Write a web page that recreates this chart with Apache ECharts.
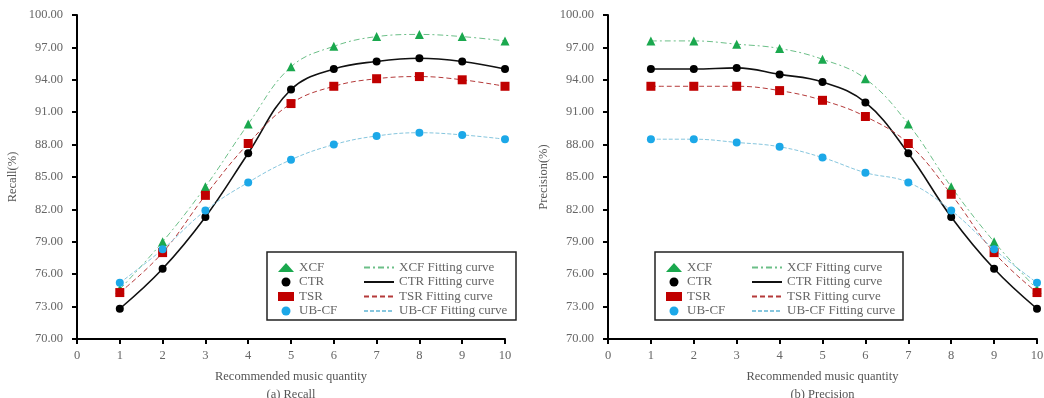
<!DOCTYPE html>
<html><head><meta charset="utf-8">
<script src="https://cdn.jsdelivr.net/npm/echarts@6/dist/echarts.min.js"></script>
<style>html,body{margin:0;padding:0;background:#fff}#c{width:1044px;height:398px}</style>
</head><body><div id="c"></div>
<script>
const xValues = [1,2,3,4,5,6,7,8,9,10];
const methods = ['XCF','CTR','TSR','UB-CF'];
const fitNames = ['XCF Fitting curve','CTR Fitting curve','TSR Fitting curve','UB-CF Fitting curve'];
const recallXCF = [74.6, 79.0, 84.1, 89.9, 95.2, 97.1, 98.0, 98.2, 98.0, 97.6];
const recallCTR = [72.8, 76.5, 81.3, 87.2, 93.1, 95.0, 95.7, 96.0, 95.7, 95.0];
const recallTSR = [74.3, 78.0, 83.3, 88.1, 91.8, 93.4, 94.1, 94.3, 94.0, 93.4];
const recallUBCF = [75.2, 78.3, 81.9, 84.5, 86.6, 88.0, 88.8, 89.1, 88.9, 88.5];
const precXCF = [97.6, 97.6, 97.3, 96.9, 95.9, 94.1, 89.9, 84.1, 79.0, 74.6];
const precCTR = [95.0, 95.0, 95.1, 94.5, 93.8, 91.9, 87.2, 81.3, 76.5, 72.8];
const precTSR = [93.4, 93.4, 93.4, 93.0, 92.1, 90.6, 88.1, 83.4, 78.0, 74.3];
const precUBCF = [88.5, 88.5, 88.2, 87.8, 86.8, 85.4, 84.5, 81.9, 78.3, 75.2];
const xTicks = [0,1,2,3,4,5,6,7,8,9,10];
const yMin = 70, yMax = 100, yStep = 3;

const FONT = 'Liberation Serif';
const markerStyle = [
  {symbol:'triangle', size:9, color:'#1aa84e'},
  {symbol:'circle', size:8, color:'#000000'},
  {symbol:'rect', size:9, color:'#c00000'},
  {symbol:'circle', size:8, color:'#1ca8e8'}
];
const fitStyle = [
  {color:'#6cbf88', width:1, type:[6,3,2,3]},
  {color:'#111111', width:1.6, type:'solid'},
  {color:'#b53a3a', width:1, type:[5,3]},
  {color:'#86c6de', width:1, type:[4,2]}
];
const recallSets = [recallXCF, recallCTR, recallTSR, recallUBCF];
const precSets = [precXCF, precCTR, precTSR, precUBCF];

function pairs(arr){ return xValues.map((x,i)=>[x, arr[i]]); }

function makeAxes(gi, yName, xName){
  const x = {
    type:'value', gridIndex:gi, min:xTicks[0], max:xTicks[xTicks.length-1], interval:1,
    axisLine:{lineStyle:{color:'#000', width:2}},
    axisTick:{length:5, lineStyle:{color:'#000', width:2}},
    axisLabel:{color:'#666', fontFamily:FONT, fontSize:12.5, margin:10},
    splitLine:{show:false},
    name:xName, nameLocation:'middle', nameGap:29,
    nameTextStyle:{color:'#555', fontFamily:FONT, fontSize:12.5, lineHeight:18}
  };
  const y = {
    type:'value', gridIndex:gi, min:yMin, max:yMax, interval:yStep,
    axisLine:{show:true, lineStyle:{color:'#000', width:2}},
    axisTick:{show:true, length:5, lineStyle:{color:'#000', width:2}},
    axisLabel:{color:'#666', fontFamily:FONT, fontSize:12.5, margin:14, formatter:v=>v.toFixed(2)},
    splitLine:{show:false},
    name:yName, nameLocation:'middle', nameGap:58,
    nameTextStyle:{color:'#555', fontFamily:FONT, fontSize:12.5}
  };
  return [x,y];
}

const [x0,y0] = makeAxes(0, 'Recall(%)', 'Recommended music quantity\n(a) Recall');
const [x1,y1] = makeAxes(1, 'Precision(%)', 'Recommended music quantity\n(b) Precision');

const series = [];
[recallSets, precSets].forEach((sets, gi)=>{
  sets.forEach((arr, k)=>{
    series.push({
      type:'line', name:fitNames[k], xAxisIndex:gi, yAxisIndex:gi,
      data:pairs(arr), smooth:0.4, symbol:'none', showSymbol:false,
      lineStyle:{color:fitStyle[k].color, width:fitStyle[k].width, type:fitStyle[k].type},
      itemStyle:{color:fitStyle[k].color}, z:2, silent:true
    });
  });
  sets.forEach((arr, k)=>{
    series.push({
      type:'scatter', name:methods[k], xAxisIndex:gi, yAxisIndex:gi,
      data:pairs(arr), symbol:markerStyle[k].symbol, symbolSize:markerStyle[k].size,
      itemStyle:{color:markerStyle[k].color, opacity:1}, z:5
    });
  });
});

function legends(left0){
  const common = {orient:'vertical', top:256, itemGap:1.5, selectedMode:false,
    textStyle:{fontFamily:FONT, fontSize:13, color:'#666', lineHeight:13}};
  return [
    Object.assign({}, common, {left:left0, data:methods, itemWidth:16, itemHeight:9}),
    Object.assign({}, common, {left:left0+85, data:fitNames, itemWidth:30, itemHeight:9,
      itemStyle:{opacity:0}})
  ];
}

const chart = echarts.init(document.getElementById('c'), null, {renderer:'canvas'});
chart.setOption({
  backgroundColor:'#fff',
  animation:false,
  grid:[
    {left:77, right:539, top:15, bottom:59, outerBoundsMode:'none', containLabel:false},
    {left:608, right:7, top:15, bottom:59, outerBoundsMode:'none', containLabel:false}
  ],
  xAxis:[x0,x1], yAxis:[y0,y1],
  legend:[...legends(273), ...legends(661)],
  graphic:[
    {type:'rect', shape:{x:267, y:252, width:249, height:68}, style:{fill:'rgba(0,0,0,0)', stroke:'#222', lineWidth:1.5}, z:100},
    {type:'rect', shape:{x:655, y:252, width:248, height:68}, style:{fill:'rgba(0,0,0,0)', stroke:'#222', lineWidth:1.5}, z:100}
  ],
  series
});
</script></body></html>
